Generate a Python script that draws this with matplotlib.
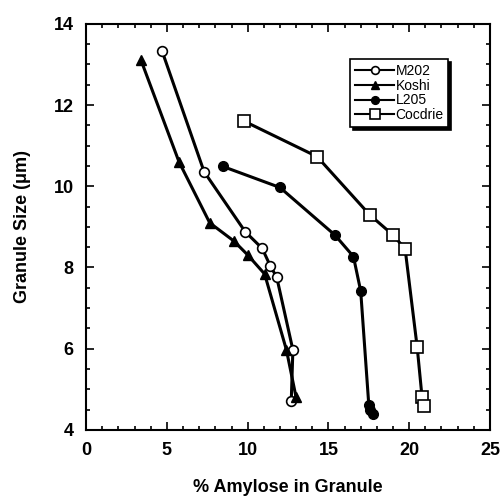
import numpy as np
import matplotlib
matplotlib.use("Agg")
import matplotlib.pyplot as plt
from matplotlib.ticker import MultipleLocator

plt.rcParams['font.family'] = ['Liberation Sans', 'DejaVu Sans']

# values
m202_x = [4.7, 7.3, 9.85, 10.9, 11.4, 11.8, 12.8, 12.7]
m202_y = [13.33, 10.36, 8.88, 8.47, 8.04, 7.76, 5.97, 4.72]

koshi_x = [3.4, 5.75, 7.65, 9.15, 10.0, 11.05, 12.4, 13.0]
koshi_y = [13.1, 10.6, 9.1, 8.65, 8.31, 7.84, 5.97, 4.8]

l205_x = [8.45, 12.0, 15.4, 16.55, 17.0, 17.5, 17.6, 17.75]
l205_y = [10.49, 9.97, 8.8, 8.27, 7.42, 4.62, 4.5, 4.4]

cocdrie_x = [9.8, 14.3, 17.55, 19.0, 19.75, 20.5, 20.8, 20.9]
cocdrie_y = [11.6, 10.73, 9.3, 8.8, 8.46, 6.03, 4.8, 4.6]

fig = plt.figure(figsize=(5.04, 4.97), dpi=100)
ax = fig.add_axes([0.171, 0.135, 0.801, 0.817])

ax.plot(m202_x, m202_y, '-o', color='black', lw=2.2, ms=7, mfc='white', mec='black', mew=1.2, label='M202')
ax.plot(koshi_x, koshi_y, '-^', color='black', lw=2.2, ms=7, mfc='black', label='Koshi')
ax.plot(l205_x, l205_y, '-o', color='black', lw=2.2, ms=7, mfc='black', label='L205')
ax.plot(cocdrie_x, cocdrie_y, '-s', color='black', lw=2.2, ms=9, mfc='white', mec='black', mew=1.2, label='Cocdrie')

ax.set_xlim(0, 25)
ax.set_ylim(4, 14)
ax.xaxis.set_major_locator(MultipleLocator(5))
ax.xaxis.set_minor_locator(MultipleLocator(1))
ax.yaxis.set_major_locator(MultipleLocator(2))
ax.yaxis.set_minor_locator(MultipleLocator(0.5))
ax.tick_params(which='both', direction='in', top=True, right=True, width=1.2)
ax.tick_params(which='major', length=6, labelsize=13, pad=9)
ax.tick_params(which='minor', length=3)
for lab in ax.get_xticklabels() + ax.get_yticklabels():
    lab.set_fontweight('bold')
for s in ax.spines.values():
    s.set_linewidth(1.5)

ax.set_xlabel('% Amylose in Granule', fontsize=13, fontweight='bold', labelpad=14)
ax.set_ylabel('Granule Size (\u03bcm)', fontsize=13, fontweight='bold', labelpad=16)

leg = ax.legend(loc='upper left', bbox_to_anchor=(0.637, 0.93), fontsize=10, frameon=True,
                fancybox=False, shadow={'color': 'black', 'alpha': 1}, edgecolor='black',
                handlelength=2.8, handletextpad=0.1, labelspacing=0.05, borderpad=0.35,
                markerscale=0.8)
leg.get_frame().set_linewidth(1.2)
for line in leg.get_lines():
    line.set_linewidth(1.5)

fig.savefig('out.png', dpi=100)
